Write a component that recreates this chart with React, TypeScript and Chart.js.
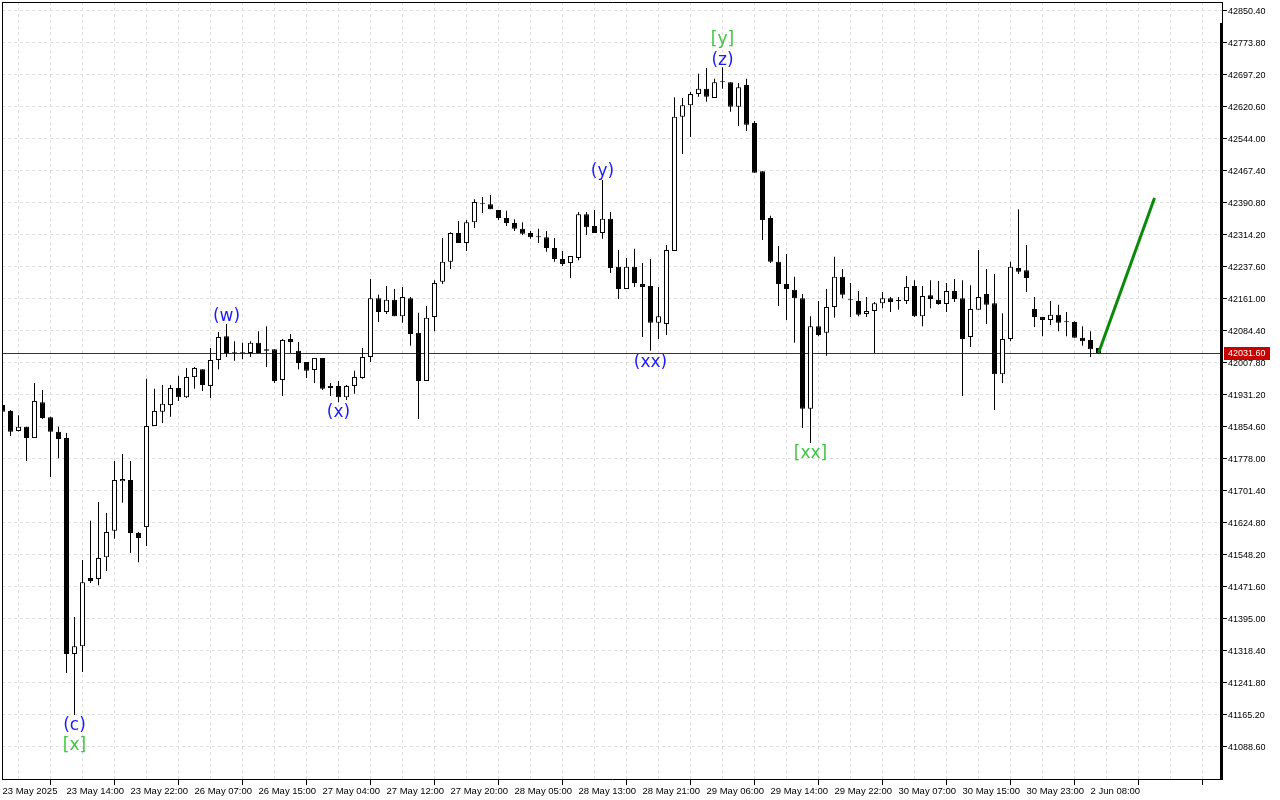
import React, { useEffect, useRef } from 'react';
import { Chart, registerables } from 'chart.js';

Chart.register(...registerables);

// ---- data (H1 candles, index 0 = first bar on screen) ----
const opens = [
  41907, 41893, 41845, 41855, 41828, 41914, 41878, 41843, 41828, 41311,
  41330, 41493, 41491, 41543, 41606, 41725, 41728, 41601, 41615, 41857,
  41891, 41907, 41948, 41926, 41974, 41993, 41953, 42015, 42072, 42032,
  42031, 42032, 42056, 42037, 42041, 41967, 42065, 42037, 42010, 41991,
  42020, 41948, 41953, 41926, 41953, 41972, 42022, 42163, 42130, 42159,
  42120, 42163, 42080, 41965, 42118, 42202, 42250, 42319, 42295, 42345,
  42388, 42388, 42374, 42355, 42343, 42329, 42319, 42309, 42309, 42283,
  42257, 42247, 42259, 42364, 42336, 42319, 42353, 42238, 42185, 42238,
  42197, 42192, 42104, 42101, 42276, 42597, 42625, 42652, 42664, 42642,
  42680, 42680, 42621, 42673, 42582, 42467, 42355, 42250, 42197, 42183,
  42163, 41898, 42096, 42080, 42142, 42214, 42159, 42156, 42125, 42132,
  42151, 42163, 42156, 42156, 42192, 42120, 42170, 42159, 42149, 42180,
  42163, 42070, 42135, 42173, 42151, 41981, 42065, 42235, 42230, 42137,
  42118, 42111, 42123, 42106, 42106, 42068, 42063, 42044,
];
const highs = [
  41912, 41895, 41883, 41855, 41960, 41943, 41879, 41855, 41840, 41400,
  41536, 41630, 41675, 41649, 41773, 41790, 41773, 41603, 41970, 41946,
  41955, 41955, 41977, 41996, 41998, 41993, 42044, 42082, 42101, 42060,
  42056, 42060, 42084, 42096, 42041, 42065, 42077, 42058, 42010, 42020,
  42020, 41960, 41965, 41955, 41989, 42044, 42209, 42171, 42192, 42185,
  42190, 42166, 42128, 42144, 42206, 42307, 42321, 42348, 42350, 42400,
  42405, 42410, 42374, 42372, 42352, 42345, 42324, 42329, 42324, 42307,
  42276, 42264, 42369, 42369, 42374, 42446, 42369, 42278, 42259, 42281,
  42247, 42257, 42190, 42290, 42644, 42642, 42657, 42700, 42714, 42688,
  42716, 42680, 42678, 42688, 42587, 42467, 42360, 42288, 42269, 42214,
  42173, 42120, 42156, 42185, 42262, 42233, 42199, 42180, 42166, 42154,
  42178, 42166, 42166, 42216, 42206, 42192, 42206, 42204, 42199, 42209,
  42206, 42194, 42278, 42233, 42221, 42127, 42250, 42376, 42290, 42166,
  42118, 42156, 42147, 42130, 42108, 42096, 42084, 42044,
];
const lows = [
  41886, 41833, 41844, 41773, 41828, 41874, 41735, 41780, 41266, 41165,
  41268, 41481, 41476, 41510, 41587, 41673, 41553, 41531, 41570, 41857,
  41864, 41879, 41917, 41924, 41946, 41941, 41924, 41993, 42022, 42013,
  42017, 42022, 42031, 41998, 41960, 41929, 42032, 41993, 41972, 41960,
  41943, 41929, 41914, 41919, 41934, 41970, 42010, 42106, 42125, 42120,
  42104, 42049, 41874, 41965, 42084, 42197, 42233, 42295, 42276, 42331,
  42367, 42376, 42350, 42336, 42324, 42314, 42305, 42295, 42274, 42250,
  42240, 42211, 42254, 42314, 42319, 42305, 42223, 42161, 42185, 42190,
  42070, 42037, 42065, 42075, 42276, 42508, 42549, 42645, 42633, 42642,
  42664, 42609, 42575, 42563, 42463, 42302, 42247, 42144, 42111, 42056,
  41852, 41816, 42072, 42025, 42116, 42163, 42118, 42120, 42118, 42032,
  42139, 42130, 42135, 42149, 42118, 42096, 42139, 42147, 42130, 42154,
  41929, 42046, 42135, 42101, 41895, 41960, 42060, 42221, 42178, 42094,
  42072, 42099, 42084, 42072, 42068, 42049, 42022, 42030,
];
const closes = [
  41891, 41843, 41855, 41828, 41917, 41876, 41843, 41826, 41311, 41330,
  41483, 41486, 41541, 41603, 41728, 41730, 41601, 41589, 41857, 41893,
  41910, 41948, 41926, 41974, 41996, 41955, 42015, 42070, 42032, 42031,
  42032, 42056, 42032, 42041, 41965, 42063, 42058, 42008, 41989, 42020,
  41946, 41953, 41926, 41953, 41974, 42022, 42163, 42130, 42159, 42120,
  42166, 42077, 41965, 42116, 42199, 42250, 42319, 42295, 42345, 42393,
  42389, 42376, 42355, 42343, 42329, 42317, 42309, 42309.5, 42283, 42257,
  42245, 42264, 42364, 42333, 42319, 42353, 42235, 42185, 42238, 42199,
  42190, 42104, 42120, 42278, 42597, 42625, 42652, 42664, 42645, 42680,
  42680.5, 42621, 42668, 42578, 42463, 42350, 42250, 42197, 42185, 42163,
  41898, 42096, 42075, 42142, 42214, 42171, 42158, 42123, 42132, 42151,
  42163, 42154, 42156.5, 42190, 42120, 42168, 42161, 42149, 42180, 42161,
  42065, 42137, 42166, 42147, 41981, 42065, 42238, 42226, 42211, 42118,
  42111, 42123, 42104, 42105.5, 42068, 42060, 42041, 42031.6,
];

// one label every 8 bars
const timeLabels = [
  '23 May 2025', '23 May 14:00', '23 May 22:00', '26 May 07:00', '26 May 15:00',
  '27 May 04:00', '27 May 12:00', '27 May 20:00', '28 May 05:00', '28 May 13:00',
  '28 May 21:00', '29 May 06:00', '29 May 14:00', '29 May 22:00', '30 May 07:00',
  '30 May 15:00', '30 May 23:00', '2 Jun 08:00',
];

const priceTicks = [
  42850.4, 42773.8, 42697.2, 42620.6, 42544.0, 42467.4, 42390.8, 42314.2,
  42237.6, 42161.0, 42084.4, 42007.8, 41931.2, 41854.6, 41778.0, 41701.4,
  41624.8, 41548.2, 41471.6, 41395.0, 41318.4, 41241.8, 41165.2, 41088.6,
];

const currentPrice = 42031.6;

// forecast arrow
const forecastBars = [137, 144];
const forecastPrices = [42031.6, 42403];

// wave labels
const waveTexts = ['(c)', '[x]', '(w)', '(x)', '(y)', '(xx)', '[y]', '(z)', '[xx]'];
const waveBars = [9, 9, 28, 42, 75, 81, 90, 90, 101];
const wavePrices = [41140, 41092, 42118, 41890, 42465, 42010, 42781, 42731, 41790];

const FONT_FAMILY = "'Liberation Sans', Arial, sans-serif";

export default function App() {
  const ref = useRef<HTMLCanvasElement | null>(null);

  useEffect(() => {
    document.body.style.margin = '0';
    document.body.style.background = '#ffffff';
    const canvas = ref.current;
    if (!canvas) return;

    const n = opens.length;
    const idx = Array.from({ length: n }, (_, i) => i);
    const wickData = idx.map((i) => ({ x: i, y: [lows[i], highs[i]] }));
    const bodyData = idx.map((i) => ({
      x: i,
      y: [Math.min(opens[i], closes[i]), Math.max(opens[i], closes[i])],
    }));
    const bodyColors = idx.map((i) => (closes[i] >= opens[i] ? '#ffffff' : '#000000'));
    const forecastData = forecastBars.map((b, k) => ({ x: b, y: forecastPrices[k] }));

    const gridTicks: number[] = [];
    for (let v = 0; v <= 152; v += 4) gridTicks.push(v);

    const overlay = {
      id: 'overlay',
      beforeDatasetsDraw(chart: any) {
        const { ctx, chartArea, scales } = chart;
        const y = Math.round(scales.y.getPixelForValue(currentPrice)) + 0.5;
        ctx.save();
        ctx.strokeStyle = '#b00000';
        ctx.lineWidth = 1;
        ctx.beginPath();
        ctx.moveTo(chartArea.left, y);
        ctx.lineTo(chartArea.right, y);
        ctx.stroke();
        ctx.restore();
      },
      afterDraw(chart: any) {
        const { ctx, chartArea, scales } = chart;
        const { left, right, top, bottom } = chartArea;
        ctx.save();
        // frame
        ctx.strokeStyle = '#000000';
        ctx.lineWidth = 1;
        ctx.beginPath();
        ctx.moveTo(left + 0.5, top + 0.5);
        ctx.lineTo(right + 1, top + 0.5);
        ctx.moveTo(left + 0.5, top);
        ctx.lineTo(left + 0.5, bottom + 1);
        ctx.moveTo(left, bottom + 0.5);
        ctx.lineTo(right + 1, bottom + 0.5);
        ctx.stroke();
        ctx.fillStyle = '#000000';
        ctx.fillRect(right - 2, top + 21, 3, bottom - top - 20);
        ctx.fillRect(right, top, 1, 21);

        // current price tag
        const py = Math.round(scales.y.getPixelForValue(currentPrice));
        ctx.fillStyle = '#c80000';
        ctx.fillRect(right + 2, py - 6, 46, 13);
        ctx.fillStyle = '#ffffff';
        ctx.font = `9px ${FONT_FAMILY}`;
        ctx.textAlign = 'left';
        ctx.textBaseline = 'middle';
        ctx.fillText(currentPrice.toFixed(2), right + 6, py + 1);

        // wave labels
        ctx.font = "17px 'DejaVu Sans', sans-serif";
        ctx.textAlign = 'center';
        ctx.textBaseline = 'middle';
        waveTexts.forEach((t, k) => {
          const x = scales.x.getPixelForValue(waveBars[k]);
          const yy = scales.y.getPixelForValue(wavePrices[k]);
          ctx.fillStyle = t.startsWith('[') ? '#3fc63f' : '#1c1cff';
          ctx.fillText(t, x, yy);
        });
        ctx.restore();
      },
    };

    const chart = new Chart(canvas, {
      type: 'bar',
      data: {
        datasets: [
          {
            type: 'line',
            data: forecastData,
            borderColor: '#0a8a0a',
            borderWidth: 3,
            pointRadius: 0,
            order: -1,
          } as any,
          {
            type: 'bar',
            data: bodyData as any,
            backgroundColor: bodyColors,
            borderColor: '#000000',
            borderWidth: 1,
            borderSkipped: false,
            barThickness: 5,
            minBarLength: 1,
            grouped: false,
            inflateAmount: 0,
            order: 0,
          } as any,
          {
            type: 'bar',
            data: wickData as any,
            backgroundColor: '#000000',
            borderWidth: 0,
            barThickness: 1,
            grouped: false,
            inflateAmount: 0,
            order: 1,
          } as any,
        ],
      },
      options: {
        animation: false,
        responsive: false,
        devicePixelRatio: 1,
        maintainAspectRatio: false,
        layout: { padding: { left: 2, top: 2, right: 0, bottom: 0 } },
        plugins: {
          legend: { display: false },
          tooltip: { enabled: false },
        },
        events: [],
        scales: {
          x: {
            type: 'linear',
            offset: false,
            min: -0.0625,
            max: 152.4375,
            afterBuildTicks: (s: any) => {
              s.ticks = gridTicks.map((v) => ({ value: v }));
            },
            afterFit: (s: any) => {
              s.height = 21;
              s.paddingLeft = 0;
              s.paddingRight = 0;
              s.paddingTop = 0;
              s.paddingBottom = 0;
            },
            border: { display: false, dash: [3, 3] },
            grid: {
              color: '#dedede',
              lineWidth: 1,
              drawTicks: true,
              tickLength: 6,
              tickBorderDash: [],
              tickColor: (c: any) =>
                c.tick && c.tick.value % 8 === 0 ? '#000000' : 'rgba(0,0,0,0)',
            },
            ticks: {
              autoSkip: false,
              maxRotation: 0,
              minRotation: 0,
              align: 'start',
              padding: 1,
              color: '#000000',
              font: { family: FONT_FAMILY, size: 9.5 },
              callback: (v: any) => (v % 8 === 0 && timeLabels[v / 8] ? timeLabels[v / 8] : ''),
            },
          },
          y: {
            type: 'linear',
            position: 'right',
            min: 41012.0,
            max: 42871.94,
            afterBuildTicks: (s: any) => {
              s.ticks = priceTicks.map((v) => ({ value: v }));
            },
            afterFit: (s: any) => {
              s.width = 58;
              s.paddingTop = 0;
              s.paddingBottom = 0;
              s.paddingLeft = 0;
              s.paddingRight = 0;
            },
            border: { display: false, dash: [3, 3] },
            grid: {
              color: '#dedede',
              lineWidth: 1,
              drawTicks: true,
              tickLength: 5,
              tickBorderDash: [],
              tickColor: '#000000',
            },
            ticks: {
              autoSkip: false,
              padding: 1,
              labelOffset: 1,
              color: '#000000',
              font: { family: FONT_FAMILY, size: 9 },
              callback: (v: any) => Number(v).toFixed(2),
            },
          },
        },
      } as any,
      plugins: [overlay],
    });

    return () => chart.destroy();
  }, []);

  return (
    <div style={{ width: 1280, height: 800, background: '#ffffff' }}>
      <canvas ref={ref} width={1280} height={800} style={{ display: 'block' }} />
    </div>
  );
}
